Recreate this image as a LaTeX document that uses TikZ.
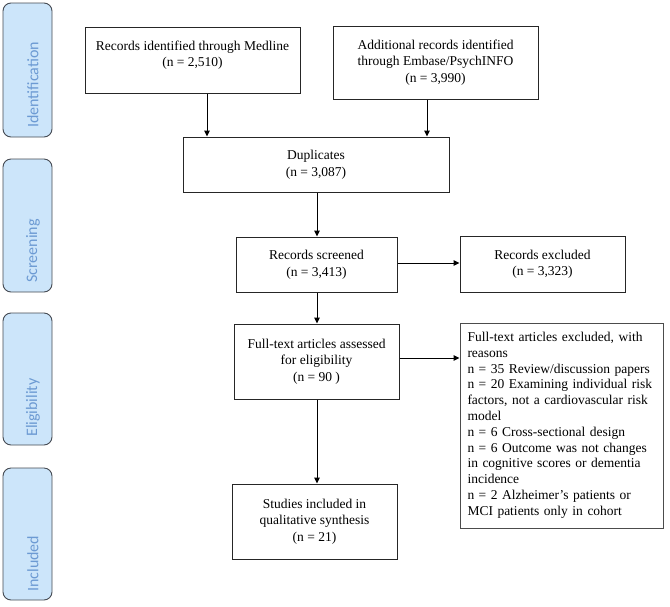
\documentclass[tikz,border=0pt]{standalone}
\usepackage{fontspec}
\setmainfont{Liberation Serif}
\newfontfamily\sidefont{Carlito}
\usetikzlibrary{arrows.meta}
\definecolor{sidefill}{HTML}{CCE5FA}
\definecolor{sidetext}{HTML}{6C9AD3}
\definecolor{sideedge}{HTML}{454A52}
\tikzset{
  box/.style={draw=black!85, line width=1pt, fill=white, align=center, inner sep=0pt,
    font=\fontsize{13.5}{16.5}\selectfont},
  sidebox/.style={draw=sideedge, line width=0.9pt, fill=sidefill, rounded corners=8pt,
    minimum width=49pt, inner sep=0pt},
  sidelabel/.style={rotate=90, anchor=west, text=sidetext, inner sep=0pt,
    font=\sidefont\fontsize{16}{18}\selectfont},
  arr/.style={line width=1pt, -{Triangle[length=6pt,width=5.5pt]}}
}
\begin{document}
\begin{tikzpicture}[x=1pt,y=-1pt]
\useasboundingbox (0,0) rectangle (670,606);
% side boxes
\node[sidebox, minimum height=134pt] (sid) at (27.5,70) {};
\node[sidebox, minimum height=133pt] (sscr) at (27.5,225.5) {};
\node[sidebox, minimum height=132pt] (selig) at (27.5,379) {};
\node[sidebox, minimum height=132pt] (sinc) at (27.5,534) {};
\node[sidelabel] (lid) at (33,128) {Identification};
\node[sidelabel] (lscr) at (33,283) {Screening};
\node[sidelabel] (lelig) at (33,437) {Eligibility};
\node[sidelabel] (linc) at (33,592) {Included};
% boxes
\node[box, minimum width=215pt, minimum height=66pt] (med) at (192.5,60)
  {\fontsize{13.5}{19}\selectfont Records identified through Medline\\(n = 2,510)\\[-4pt]\mbox{}};
\node[box, minimum width=205pt, minimum height=73pt] (emb) at (435.5,62.5)
  {Additional records identified\\through Embase/PsychINFO\\(n = 3,990)};
\node[box, minimum width=266pt, minimum height=55pt] (dup) at (316,164.5)
  {Duplicates\\(n = 3,087)};
\node[box, minimum width=161pt, minimum height=55pt] (scr) at (316.5,264.5)
  {Records screened\\(n = 3,413)};
\node[box, minimum width=165pt, minimum height=56pt] (exc) at (542.5,264)
  {Records excluded\\(n = 3,323)};
\node[box, minimum width=165pt, minimum height=75pt] (full) at (316.5,361.5)
  {\fontsize{13.5}{15.5}\selectfont Full-text articles assessed\\for eligibility\\(n = 90 )};
\node[box, draw=black!70, minimum width=203pt, minimum height=205pt, align=left, text width=188pt] (rsn) at (561.5,425.5)
  {\fontsize{13.5}{15.8}\selectfont Full-text articles excluded, with\\reasons\\n = 35 Review/discussion papers\\n = 20 Examining individual risk\\factors, not a cardiovascular risk\\model\\n = 6 Cross-sectional design\\n = 6 Outcome was not changes\\in cognitive scores or dementia\\incidence\\n = 2 Alzheimer's patients or\\MCI patients only in cohort};
\node[box, minimum width=165pt, minimum height=75pt] (inc) at (314.5,521.5)
  {Studies included in\\qualitative synthesis\\(n = 21)};
% connectors
\draw[arr] (med.south -| 207,0) -- (dup.north -| 207,0);
\draw[arr] (emb.south -| 427,0) -- (dup.north -| 427,0);
\draw[arr] (dup.south -| 317,0) -- (scr.north -| 317,0);
\draw[arr] (scr.east |- 0,263) -- (exc.west |- 0,263);
\draw[arr] (scr.south -| 317,0) -- (full.north -| 317,0);
\draw[arr] (full.east |- 0,358) -- (rsn.west |- 0,358);
\draw[arr] (full.south -| 317,0) -- (inc.north -| 317,0);
\end{tikzpicture}
\end{document}
